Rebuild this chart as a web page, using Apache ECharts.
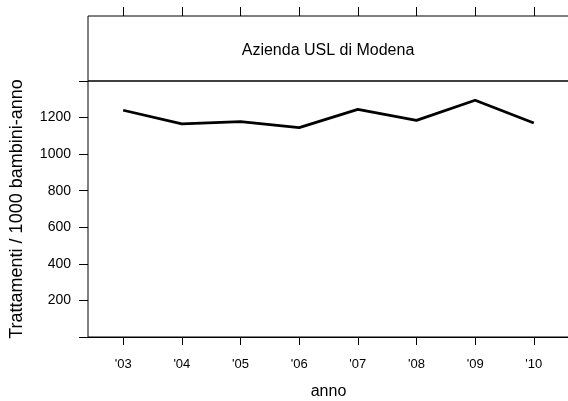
<!DOCTYPE html>
<html>
<head>
<meta charset="utf-8">
<script src="https://cdn.jsdelivr.net/npm/echarts@6/dist/echarts.min.js"></script>
<style>
  html, body { margin: 0; padding: 0; background: #fff; }
  #main { width: 568px; height: 401px; }
</style>
</head>
<body>
<div id="main"></div>
<script>
// dati
var anni = ["'03", "'04", "'05", "'06", "'07", "'08", "'09", "'10"];
var trattamenti = [1240, 1165, 1178, 1145, 1245, 1185, 1295, 1170];
var titoloStrip = 'Azienda USL di Modena';

var font = 'Liberation Sans, Arial, sans-serif';
var posizioni = [];
var punti = [];
for (var i = 0; i < anni.length; i++) {
  posizioni.push(i + 1);
  punti.push([i + 1, trattamenti[i]]);
}

var myChart = echarts.init(document.getElementById('main'), null, { renderer: 'canvas' });
var option = {
  backgroundColor: '#fff',
  animation: false,
  textStyle: { fontFamily: font, color: '#000' },
  grid: [
    // pannello
    { left: 88, top: 81, width: 481, height: 256, outerBoundsMode: 'none', containLabel: false,
      show: true, borderColor: '#000', borderWidth: 1, backgroundColor: 'transparent' },
    // strip
    { left: 88, top: 16, width: 481, height: 65, outerBoundsMode: 'none', containLabel: false,
      show: true, borderColor: '#000', borderWidth: 1, backgroundColor: 'transparent' }
  ],
  xAxis: [
    {
      gridIndex: 0, type: 'value', min: 0.4, max: 8.6,
      name: 'anno', nameLocation: 'middle', nameGap: 47,
      nameTextStyle: { fontSize: 16, color: '#000', fontFamily: font },
      axisLine: { show: true, onZero: false, lineStyle: { color: '#000', width: 1 } },
      splitLine: { show: false },
      axisTick: { show: true, length: 8, customValues: posizioni, lineStyle: { color: '#000' } },
      axisLabel: {
        customValues: posizioni, margin: 21, fontSize: 13, color: '#000', fontFamily: font,
        formatter: function (v) { return anni[Math.round(v) - 1] || ''; }
      }
    },
    {
      gridIndex: 1, type: 'value', min: 0.4, max: 8.6, position: 'top',
      axisLine: { show: false, onZero: false },
      splitLine: { show: false },
      axisTick: { show: true, length: 9, customValues: posizioni, lineStyle: { color: '#000' } },
      axisLabel: { show: false, customValues: posizioni }
    }
  ],
  yAxis: [
    {
      gridIndex: 0, type: 'value', min: 0, max: 1400, interval: 200,
      name: 'Trattamenti / 1000 bambini-anno', nameLocation: 'middle', nameGap: 62,
      nameTextStyle: { fontSize: 18, color: '#000', fontFamily: font },
      axisLine: { show: false, onZero: false },
      splitLine: { show: false },
      axisTick: { show: true, length: 9, lineStyle: { color: '#000' } },
      axisLabel: {
        margin: 17, fontSize: 14, color: '#000', fontFamily: font,
        formatter: function (v) { return (v === 0 || v === 1400) ? '' : String(v); }
      }
    },
    {
      gridIndex: 1, type: 'value', min: 0, max: 1,
      axisLine: { show: false }, axisTick: { show: false },
      axisLabel: { show: false }, splitLine: { show: false }
    }
  ],
  graphic: [
    {
      type: 'text',
      style: { text: titoloStrip, x: 328, y: 51, textAlign: 'center', textVerticalAlign: 'middle', fontSize: 16, fontFamily: font, fill: '#000' }
    }
  ],
  series: [
    {
      type: 'line', xAxisIndex: 0, yAxisIndex: 0,
      data: punti, symbol: 'none',
      lineStyle: { color: '#000', width: 2.8 }
    }
  ]
};
myChart.setOption(option);
</script>
</body>
</html>
